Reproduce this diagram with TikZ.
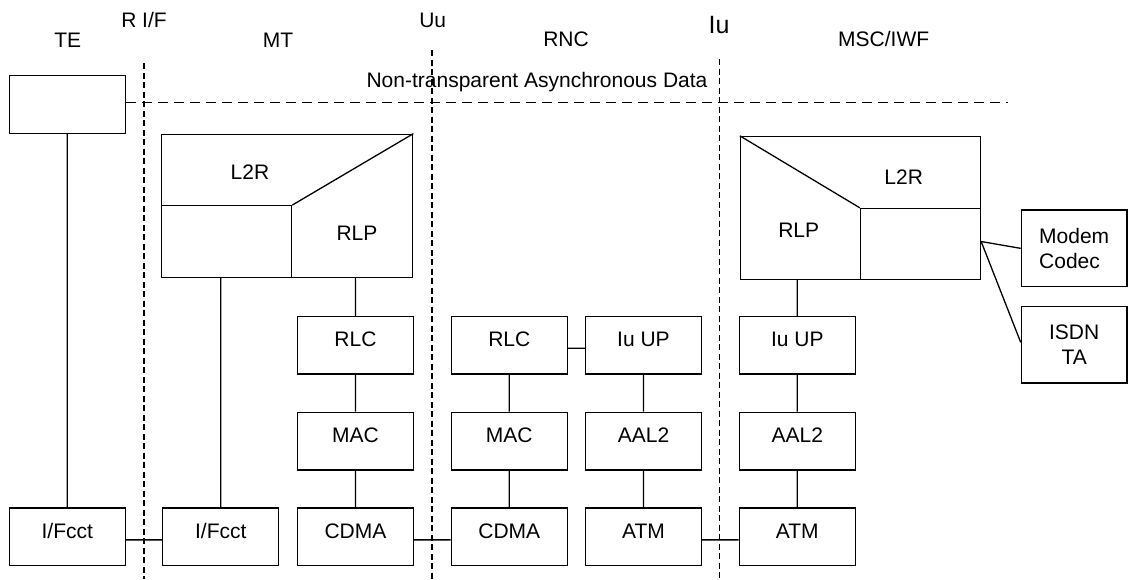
\documentclass[tikz,border=0pt]{standalone}
\usepackage{fontspec}
\setmainfont{Liberation Sans}
\usetikzlibrary{positioning}

\begin{document}
\begin{tikzpicture}[x=1pt,y=-1pt,on grid,node distance=95.8pt,
    font=\fontsize{21}{25}\selectfont,line width=1.3pt,
    layer/.style={draw,minimum width=116pt,minimum height=57.7pt,text height=15pt,text depth=12pt,inner sep=0pt},
    blank/.style={draw,inner sep=0pt},
    side/.style={draw,minimum width=105.7pt,minimum height=76.7pt,inner sep=0pt},
    tag/.style={anchor=base,inner sep=0pt},
    iface/.style={line width=1.2pt,dash pattern=on 6pt off 3.5pt},
    link/.style={line width=1.2pt,dash pattern=on 10.5pt off 5.5pt}]
      \useasboundingbox (0,0) rectangle (1128,579);
      \node[tag] (te_t) at (67.7,47.3) {TE};
      \node[tag] (rif_t) at (144,27.3) {R I/F};
      \node[tag] (mt_t) at (278,47) {MT};
      \node[tag] (uu_t) at (432.7,27.3) {Uu};
      \node[tag] (rnc_t) at (566,46.7) {RNC};
      \node[tag,font=\fontsize{25}{30}\selectfont] (iu_t) at (719,33.3) {Iu};
      \node[tag] (msc_t) at (883.7,46.7) {MSC/IWF};
      \node[tag] (nt_t) at (537,87.3) {Non-transparent Asynchronous Data};
      \node[layer] (ifct_1) at (67.3,536.85) {I/Fcct};
      \node[layer] (ifct_2) [right=153.5pt of ifct_1] {I/Fcct};
      \node[layer] (cdma_1) [right=134.7pt of ifct_2] {CDMA};
      \node[layer] (mac_1) [above=of cdma_1] {MAC};
      \node[layer] (rlc_1) [above=of mac_1] {RLC};
      \node[layer] (cdma_2) [right=153.8pt of cdma_1] {CDMA};
      \node[layer] (mac_2) [above=of cdma_2] {MAC};
      \node[layer] (rlc_2) [above=of mac_2] {RLC};
      \node[layer] (atm_1) [right=134.2pt of cdma_2] {ATM};
      \node[layer] (aal_1) [above=of atm_1] {AAL2};
      \node[layer] (iuup_1) [above=of aal_1] {Iu UP};
      \node[layer] (atm_2) [right=153.8pt of atm_1] {ATM};
      \node[layer] (aal_2) [above=of atm_2] {AAL2};
      \node[layer] (iuup_2) [above=of aal_2] {Iu UP};
      \node[blank,minimum width=116pt,minimum height=57.6pt] (te) at (67.3,104.5) {};
      \node[blank,minimum width=251.2pt,minimum height=143pt] (l2r_1) at (287.1,205.8) {};
      \node[blank,minimum width=130.2pt,minimum height=71.6pt,anchor=south west] (l2rin_1) at (l2r_1.south west) {};
      \node[blank,minimum width=240pt,minimum height=143pt] (l2r_2) at (860.5,208) {};
      \node[blank,minimum width=120pt,minimum height=71pt,anchor=south east] (l2rin_2) at (l2r_2.south east) {};
      \node (l2rtxt_1) at (250,171.7) {L2R};
      \node (rlptxt_1) at (357,233) {RLP};
      \node (l2rtxt_2) at (903.7,176.7) {L2R};
      \node (rlptxt_2) at (798.7,230) {RLP};
      \node[side,align=left] (modem) at (1074.2,248.35) {Modem\\Codec};
      \node[side,align=center] (isdn) at (1074.2,344.65) {ISDN\\TA};
      \coordinate (tap) at ([yshift=2.5pt]l2rin_2.east);
      \draw[iface] (144,63) -- (144,579);
      \draw[iface] (432,50) -- (432,579);
      \draw[iface] (719.3,59) -- (719.3,579);
      \draw[link] ([yshift=1.8pt]te.east) -- ++(881.7,0);
      \path[draw]
      (l2rin_1.north east) -- (l2r_1.north east)
      (l2r_2.north west) -- (l2rin_2.north west)
      (te) -- (ifct_1)
      (ifct_2.north) -- (ifct_2.north |- l2rin_1.south)
      (rlc_1.north) -- (rlc_1.north |- l2r_1.south)
      (rlc_1) -- (mac_1) -- (cdma_1)
      (rlc_2) -- (mac_2) -- (cdma_2)
      (iuup_1) -- (aal_1) -- (atm_1)
      (iuup_2) -- (aal_2) -- (atm_2)
      (iuup_2.north) -- (iuup_2.north |- l2r_2.south)
      ([yshift=-3pt]ifct_1.east) -- ([yshift=-3pt]ifct_2.west)
      ([yshift=-3pt]cdma_1.east) -- ([yshift=-3pt]cdma_2.west)
      ([yshift=-3pt]atm_1.east) -- ([yshift=-3pt]atm_2.west)
      ([yshift=-3pt]rlc_2.east) -- ([yshift=-3pt]iuup_1.west)
      (tap) -- (modem.west)
      (tap) -- ([yshift=2.3pt]isdn.west);
    \end{tikzpicture}
\end{document}
